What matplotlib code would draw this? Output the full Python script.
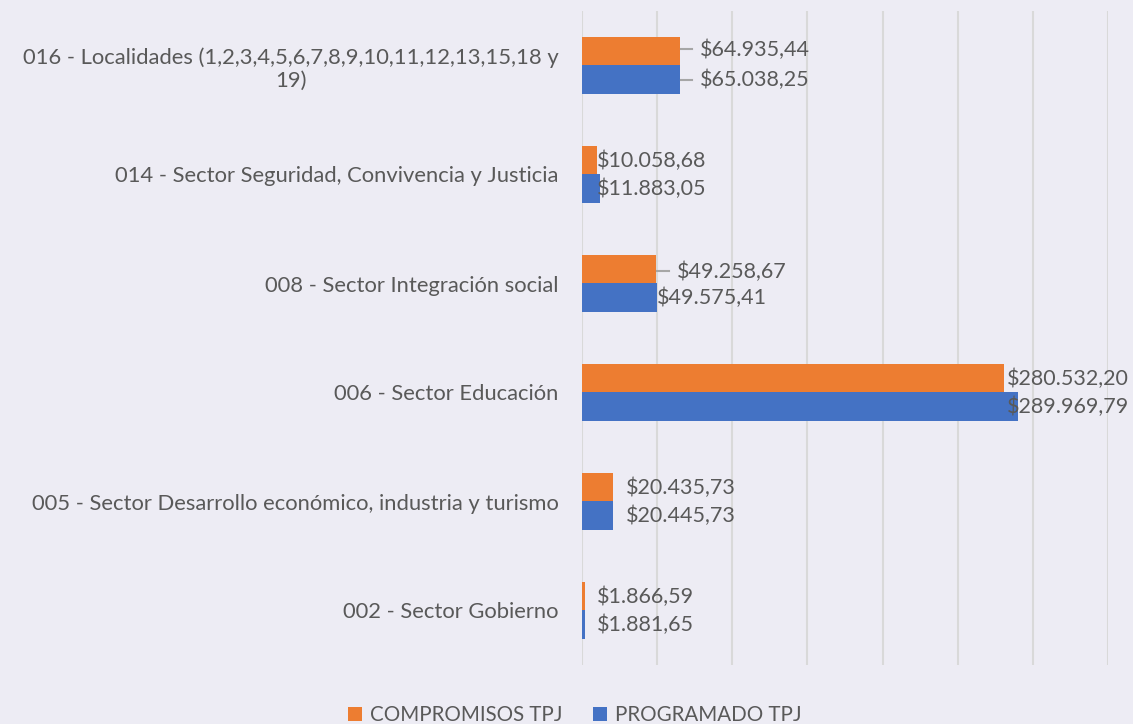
import matplotlib
matplotlib.use("Agg")
import matplotlib.pyplot as plt
from matplotlib.lines import Line2D
import numpy as np

categories = [
    "002 - Sector Gobierno",
    "005 - Sector Desarrollo económico, industria y turismo",
    "006 - Sector Educación",
    "008 - Sector Integración social",
    "014 - Sector Seguridad, Convivencia y Justicia",
    "016 - Localidades (1,2,3,4,5,6,7,8,9,10,11,12,13,15,18 y\n19)",
]
compromisos = [1866.59, 20435.73, 280532.20, 49258.67, 10058.68, 64935.44]
programado = [1881.65, 20445.73, 289969.79, 49575.41, 11883.05, 65038.25]
labels_comp = ["$1.866,59", "$20.435,73", "$280.532,20", "$49.258,67", "$10.058,68", "$64.935,44"]
labels_prog = ["$1.881,65", "$20.445,73", "$289.969,79", "$49.575,41", "$11.883,05", "$65.038,25"]
series_names = ["COMPROMISOS TPJ", "PROGRAMADO TPJ"]

BG = "#EDECF4"
ORANGE = "#ED7D31"
BLUE = "#4472C4"
TXT = "#595959"
FONT = ["Lato", "DejaVu Sans"]
FS = 15.5
FS_CAT = 15.8
FS_LEG = 14.8

plt.rcParams["font.family"] = FONT

fig = plt.figure(figsize=(11.33, 7.24), dpi=100, facecolor=BG)
ax = fig.add_axes([582/1133, 1-665/724, (1108-582)/1133, (665-11)/724])
ax.set_facecolor(BG)

y = np.arange(len(categories))
h = 0.257
bc = ax.barh(y + h/2, compromisos, height=h, color=ORANGE, label=series_names[0], zorder=3)
bp = ax.barh(y - h/2, programado, height=h, color=BLUE, label=series_names[1], zorder=3)

ax.set_xlim(0, 350000)
ax.set_ylim(-0.5, len(categories) - 0.5)
ax.set_xticks(np.arange(0, 350001, 50000))
ax.xaxis.grid(True, color="#D9D9D9", linewidth=1.5, zorder=0)
ax.tick_params(axis="x", which="both", length=0, labelbottom=False)
ax.tick_params(axis="y", length=0, pad=17, labelsize=FS_CAT, labelcolor=TXT)
ax.set_yticks(y)
ax.set_yticklabels(categories)
for t in ax.get_yticklabels():
    t.set_multialignment("center")
for s in ax.spines.values():
    s.set_visible(False)

# label placement styling (pixel offsets from bar end; leader flags)
comp_dx = [12, 13, 3, 21, 0, 20]
comp_dy = [0, 0, 0, -2, 0, 2]
comp_leader = [False, False, False, True, False, True]
prog_dx = [12, 13, -11, 0, -3, 20]
prog_dy = [0, 0, 0, 0, 0, 0]
prog_leader = [False, False, False, False, False, True]

def place(bars, vals, labels, dxs, dys, leaders):
    for b, v, lab, dx, dy, ld in zip(bars, vals, labels, dxs, dys, leaders):
        yc = b.get_y() + b.get_height()/2
        ax.annotate(lab, xy=(v, yc), xytext=(dx, dy), textcoords="offset pixels",
                    ha="left", va="center", fontsize=FS, color=TXT, zorder=5,
                    annotation_clip=False)
        if ld:
            px, py = ax.transData.transform((v, yc))
            line = Line2D([px + 1, px + dx - 8], [py + dy, py + dy], transform=None,
                          color="#A6A6A6", lw=1.5, zorder=4)
            fig.add_artist(line)

place(bc, compromisos, labels_comp, comp_dx, comp_dy, comp_leader)
place(bp, programado, labels_prog, prog_dx, prog_dy, prog_leader)

leg = fig.legend(handles=[bc, bp], labels=series_names, loc="center",
                 bbox_to_anchor=(575/1133, 1-715/724), ncol=2, frameon=False,
                 fontsize=FS_LEG, handlelength=0.65, handleheight=0.65, handletextpad=0.4,
                 columnspacing=1.5, labelcolor=TXT)

fig.savefig("out.png", dpi=100, facecolor=BG)
